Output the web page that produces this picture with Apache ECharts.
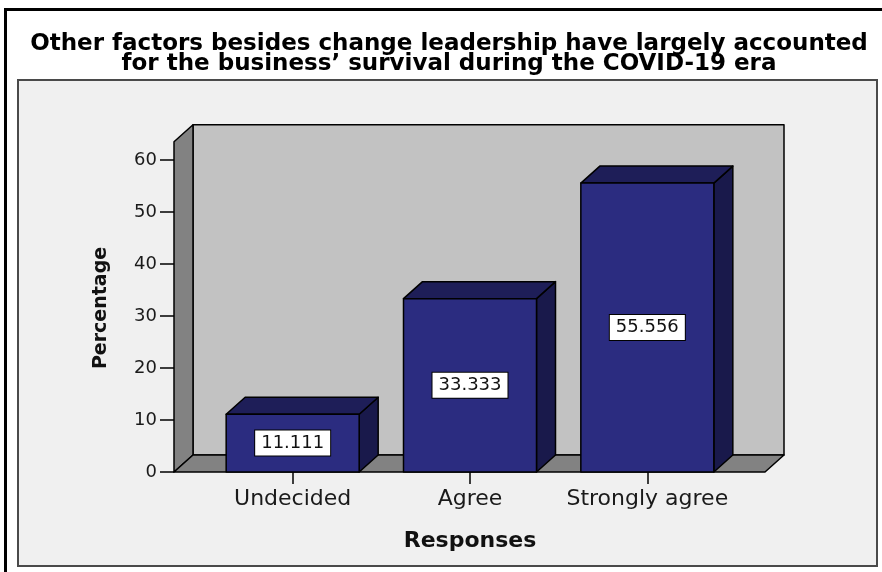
<!DOCTYPE html>
<html>
<head>
<meta charset="utf-8">
<style>
  html, body { margin: 0; padding: 0; background: #ffffff; }
  #chart { width: 882px; height: 572px; }
</style>
<script src="https://cdn.jsdelivr.net/npm/echarts@6/dist/echarts.min.js"></script>
</head>
<body>
<div id="chart"></div>
<script>
// Survey responses, percentage of respondents
const categories = ['Undecided', 'Agree', 'Strongly agree'];
const percentages = [11.111, 33.333, 55.556];

// Value axis
const yMin = 0;
const yMax = 60;
const yInterval = 10;
// Height of the 3D back wall, in axis units
const wallTop = 63.5;

// 3D depth offset in pixels
const DEPTH_X = 19;
const DEPTH_Y = 17;

const FONT = 'DejaVu Sans';

const chart = echarts.init(document.getElementById('chart'), null, { renderer: 'canvas' });

function poly(points, fill, z) {
  return {
    type: 'polygon',
    z2: z || 0,
    shape: { points: points },
    style: { fill: fill, stroke: '#000000', lineWidth: 1.5, lineJoin: 'round' }
  };
}

// Back wall, left wall and floor of the 3D box
function renderWalls(params, api) {
  const fl = api.coord([0, yMin]);
  const fr = api.coord([1, yMin]);
  const ft = api.coord([0, wallTop]);
  const x0 = fl[0], x1 = fr[0], yb = fl[1], yt = ft[1];
  const dx = DEPTH_X, dy = DEPTH_Y;
  return {
    type: 'group',
    children: [
      poly([[x0 + dx, yt - dy], [x1 + dx, yt - dy], [x1 + dx, yb - dy], [x0 + dx, yb - dy]], '#c2c2c2', 0),
      poly([[x0, yt], [x0 + dx, yt - dy], [x0 + dx, yb - dy], [x0, yb]], '#828282', 1),
      poly([[x0, yb], [x0 + dx, yb - dy], [x1 + dx, yb - dy], [x1, yb]], '#828282', 1)
    ]
  };
}

// 3D bars with boxed value labels
function renderBars(params, api) {
  const idx = api.value(0);
  const val = api.value(1);
  const top = api.coord([idx, val]);
  const bot = api.coord([idx, yMin]);
  const w = api.size([1, 0])[0] * 0.75;
  const x0 = top[0] - w / 2, x1 = top[0] + w / 2;
  const yt = top[1], yb = bot[1];
  const dx = DEPTH_X, dy = DEPTH_Y;
  return {
    type: 'group',
    children: [
      poly([[x1, yt], [x1 + dx, yt - dy], [x1 + dx, yb - dy], [x1, yb]], '#19194b', 0),
      poly([[x0, yt], [x0 + dx, yt - dy], [x1 + dx, yt - dy], [x1, yt]], '#1e1e58', 0),
      poly([[x0, yt], [x1, yt], [x1, yb], [x0, yb]], '#2b2c80', 1),
      {
        type: 'text',
        z2: 10,
        x: top[0],
        y: (yt + yb) / 2,
        style: {
          text: val.toFixed(3),
          align: 'center',
          verticalAlign: 'middle',
          fill: '#111111',
          font: '18px "' + FONT + '"',
          backgroundColor: '#ffffff',
          borderColor: '#000000',
          borderWidth: 1,
          padding: [4, 6, 3, 6]
        }
      }
    ]
  };
}

const option = {
  backgroundColor: '#ffffff',
  animation: false,
  title: {
    text: 'Other factors besides change leadership have largely accounted\nfor the business\u2019 survival during the COVID-19 era',
    left: 449,
    top: 34,
    padding: 0,
    textAlign: 'center',
    textStyle: {
      fontFamily: FONT,
      fontWeight: 'bold',
      fontSize: 23,
      lineHeight: 20,
      color: '#000000'
    }
  },
  graphic: [
    // outer frame lines
    { type: 'rect', z: -20, silent: true, shape: { x: 4, y: 8, width: 3, height: 564 }, style: { fill: '#000000' } },
    { type: 'rect', z: -20, silent: true, shape: { x: 4, y: 8, width: 878, height: 3 }, style: { fill: '#000000' } },
    // chart panel
    { type: 'rect', z: -20, silent: true, shape: { x: 18, y: 80, width: 859, height: 486 },
      style: { fill: '#f0f0f0', stroke: '#4a4a4a', lineWidth: 2 } },
    {
      type: 'text', z: 5, x: 101, y: 308, rotation: Math.PI / 2,
      style: { text: 'Percentage', align: 'center', verticalAlign: 'middle',
               font: 'bold 19px "' + FONT + '"', fill: '#111111' }
    }
  ],
  grid: [
    { left: 174, right: 117, top: 160, bottom: 100 },
    { left: 204, right: 146, top: 160, bottom: 100 }
  ],
  xAxis: [
    { gridIndex: 0, type: 'value', min: 0, max: 1, show: false },
    {
      gridIndex: 1,
      type: 'category',
      data: categories,
      axisLine: { show: false },
      axisTick: { show: true, alignWithLabel: true, length: 12, lineStyle: { color: '#000000', width: 1.5 } },
      axisLabel: { interval: 0, fontFamily: FONT, fontSize: 22, color: '#1a1a1a', margin: 16 },
      name: 'Responses',
      nameLocation: 'middle',
      nameGap: 58,
      nameTextStyle: { fontFamily: FONT, fontWeight: 'bold', fontSize: 22, color: '#111111' }
    }
  ],
  yAxis: [
    {
      gridIndex: 0,
      type: 'value',
      min: yMin,
      max: yMax,
      interval: yInterval,
      axisLine: { show: false },
      axisTick: { show: true, length: 14, lineStyle: { color: '#000000', width: 1.5 } },
      axisLabel: { fontFamily: FONT, fontSize: 18, color: '#1a1a1a', margin: 17 },
      splitLine: { show: false }
    },
    { gridIndex: 1, type: 'value', min: yMin, max: yMax, show: false }
  ],
  series: [
    {
      type: 'custom',
      xAxisIndex: 0,
      yAxisIndex: 0,
      z: 1,
      clip: false,
      silent: true,
      renderItem: renderWalls,
      data: [[0, 0]]
    },
    {
      type: 'custom',
      xAxisIndex: 1,
      yAxisIndex: 1,
      z: 3,
      clip: false,
      renderItem: renderBars,
      data: percentages.map((v, i) => [i, v])
    }
  ]
};

chart.setOption(option);
</script>
</body>
</html>
